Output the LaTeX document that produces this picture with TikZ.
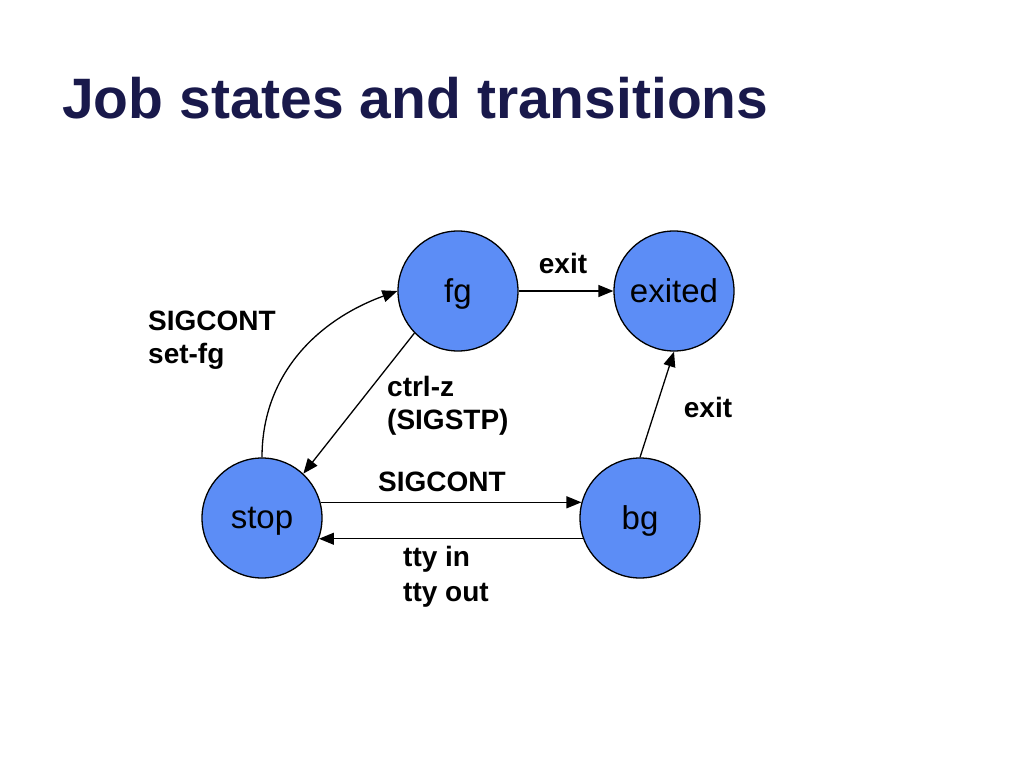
\documentclass[tikz,border=0pt]{standalone}
\usepackage{fontspec}
\setmainfont{Liberation Sans}
\usetikzlibrary{arrows.meta}
\definecolor{statefill}{RGB}{92,141,246}
\definecolor{titleblue}{RGB}{25,25,75}
\begin{document}
\begin{tikzpicture}[x=1pt,y=-1pt,
    state/.style={circle, draw=black, fill=statefill, line width=1.3pt, inner sep=0pt, minimum size=120pt, text depth=0pt, font=\fontsize{33}{38}\selectfont},
    trans/.style={line width=1.3pt, -{Triangle[length=15pt,width=12pt]}},
    lbl/.style={inner sep=0pt, align=left, font=\fontsize{28}{33}\selectfont\bfseries}]
            \useasboundingbox[fill=white] (0,0) rectangle (1024,768);
            \node [anchor=base west, inner sep=0pt, text=titleblue, font=\fontsize{57}{68}\selectfont\bfseries] (title) at (62,118) {Job states and transitions};

            \node [state] (fg) at (458,291) {fg};
            \node [state] (exited) at (674,291) {exited};
            \node [state] (stop) at (262,518) {stop};
            \node [state] (bg) at (640,518) {bg};

            \draw [trans] (fg) -- (exited);
            \draw [trans] (bg.north) -- (exited.south);
            \draw [trans] (fg.224) -- (stop.47);
            \draw [trans] (stop.north) to[out=90,in=200] (fg.west);
            \draw [trans] (stop.15) -- (bg.165);
            \draw [trans] (bg.200) -- (stop.-20);

            \node [lbl] (exittop) at (563,263) {exit};
            \node [lbl] (exitright) at (708,407) {exit};
            \node [lbl, anchor=north west] (setfg) at (148,311) {SIGCONT\\set-fg};
            \node [lbl, anchor=north west] (ctrlz) at (387,376) {ctrl-z\\(SIGSTP)};
            \node [lbl] (sigcont) at (442,482) {SIGCONT};
            \node [lbl, anchor=north west, font=\fontsize{28}{35}\selectfont\bfseries] (tty) at (403,546) {tty in\\tty out};
        \end{tikzpicture}
\end{document}
